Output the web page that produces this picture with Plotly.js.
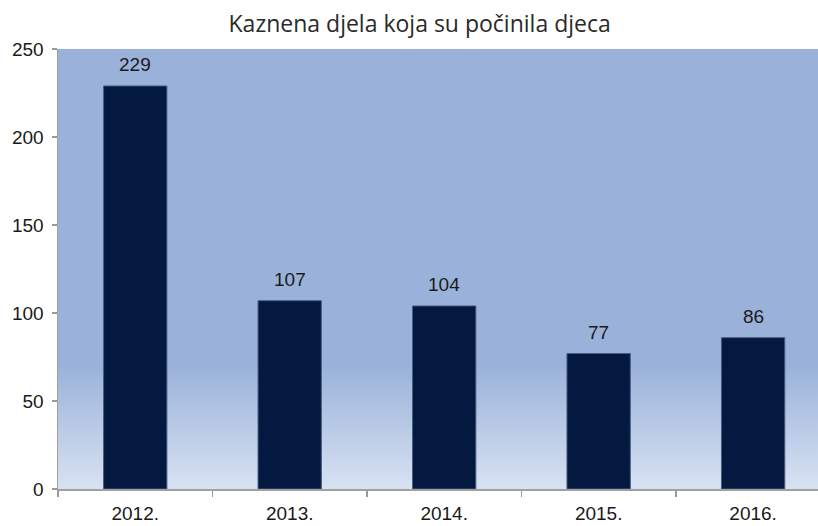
<!DOCTYPE html>
<html>
<head>
<meta charset="utf-8">
<script src="https://cdn.plot.ly/plotly-3.0.1.min.js"></script>
<style>html,body{margin:0;padding:0;background:#fff;}#chart{width:818px;height:526px;}</style>
</head>
<body>
<div id="chart"></div>
<script>
const years = ["2012.", "2013.", "2014.", "2015.", "2016."];
const counts = [229, 107, 104, 77, 86];
const yTicks = [0, 50, 100, 150, 200, 250];
const chartTitle = "Kaznena djela koja su počinila djeca";

const grad = 'data:image/svg+xml;utf8,' + encodeURIComponent(
  '<svg xmlns="http://www.w3.org/2000/svg" width="100" height="100" preserveAspectRatio="none">' +
  '<defs><linearGradient id="g" x1="0" y1="0" x2="0" y2="1">' +
  '<stop offset="0" stop-color="#9AB2DA"/><stop offset="0.72" stop-color="#9AB2DA"/>' +
  '<stop offset="1" stop-color="#D8E2F2"/></linearGradient></defs>' +
  '<rect width="100" height="100" fill="url(#g)"/></svg>');

const numFont = {family: '"Liberation Sans", Arial, sans-serif', size: 19, color: '#1a1a1a'};

const trace = {
  type: 'bar',
  x: years,
  y: counts,
  width: 0.41,
  marker: {color: '#03193F', line: {color: '#4a5d80', width: 1}},
  hoverinfo: 'none'
};

const annotations = counts.map((v, i) => ({
  x: i, y: v, xref: 'x', yref: 'y',
  text: String(v), showarrow: false,
  xanchor: 'center', yanchor: 'middle', yshift: 21,
  font: numFont
}));

const layout = {
  width: 818, height: 526,
  margin: {l: 57.5, r: 0, t: 49, b: 37},
  paper_bgcolor: '#ffffff',
  plot_bgcolor: 'rgba(0,0,0,0)',
  showlegend: false,
  title: {
    text: chartTitle,
    x: 0.513, xanchor: 'center', y: 0.955, yanchor: 'middle',
    font: {family: '"Open Sans", Lato, sans-serif', size: 23, color: '#2a2a2a'}
  },
  images: [{
    source: grad, xref: 'paper', yref: 'paper', x: 0, y: 1,
    sizex: 1, sizey: 1, sizing: 'stretch', layer: 'below',
    xanchor: 'left', yanchor: 'top'
  }],
  xaxis: {
    type: 'category',
    range: [-0.5, 4.42],
    tickson: 'boundaries',
    ticks: 'outside', ticklen: 6, tickwidth: 1.5, tickcolor: '#9a9a9a',
    showline: true, linecolor: '#a0a0a0', linewidth: 1.5,
    showgrid: false, zeroline: false,
    ticklabelstandoff: 7,
    tickfont: numFont
  },
  yaxis: {
    range: [0, 250],
    tickvals: yTicks,
    ticks: 'outside', ticklen: 5, tickwidth: 1.5, tickcolor: '#9a9a9a',
    showline: true, linecolor: '#a0a0a0', linewidth: 1.5,
    showgrid: false, zeroline: false,
    ticklabelstandoff: 4,
    tickfont: numFont
  },
  annotations: annotations
};

Plotly.newPlot('chart', [trace], layout, {displayModeBar: false, staticPlot: true});
</script>
</body>
</html>
